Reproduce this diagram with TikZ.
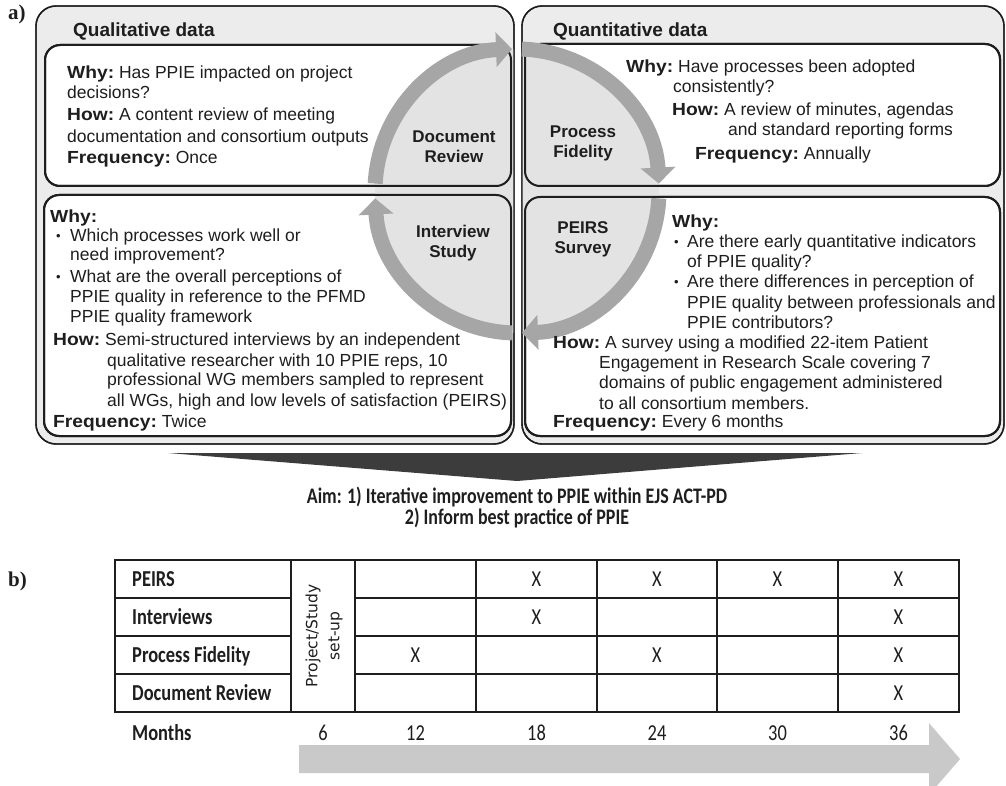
\documentclass[tikz,border=0pt]{standalone}
\usepackage{graphicx}
\usepackage{fontspec}
\setmainfont{Liberation Sans}
\newfontfamily\calfont{Carlito}
\newfontfamily\dvfont{DejaVu Sans}
\newfontfamily\serfont{Liberation Serif}
\usetikzlibrary{arrows.meta,calc}
\definecolor{panel}{HTML}{ECECEC}
\definecolor{disk}{HTML}{E3E3E3}
\definecolor{ring}{HTML}{A6A6A6}
\definecolor{ink}{HTML}{1E1E1E}
\definecolor{wedge}{HTML}{3C3C3C}
\definecolor{tarrow}{HTML}{C9C9C9}
\newcommand\bw[1]{\scalebox{1.1}[1]{\textbf{#1}}}
\newcommand\tall[1]{\scalebox{0.97}[1.2]{#1}}
\newcommand\smallbul{{\fontsize{13}{13}\selectfont\raisebox{1.2pt}{•}}}
\begin{document}
\begin{tikzpicture}[x=1pt,y=-1pt,
  txt/.style={font=\fontsize{17.5}{21}\selectfont, inner sep=0pt, text=ink, anchor=base west},
  hdr/.style={font=\bfseries\fontsize{19}{22}\selectfont, inner sep=0pt, text=ink, anchor=base west},
  clab/.style={font=\bfseries\fontsize{17}{20}\selectfont, inner sep=0pt, text=ink, align=center},
  outerbox/.style={draw=ink, line width=1.4pt, rounded corners=20pt},
  innerbox/.style={draw=ink, line width=2pt, rounded corners=15pt},
  ringarc/.style={draw=ring, line width=15pt, -{Triangle[width=34pt,length=16pt]}},
  tab/.style={font=\calfont\fontsize{19}{22}\selectfont, inner sep=0pt, text=ink},
  tabb/.style={font=\calfont\bfseries\fontsize{19}{22}\selectfont, inner sep=0pt, text=ink, anchor=base west},
  aimtxt/.style={font=\calfont\bfseries\fontsize{18.5}{21}\selectfont, inner sep=0pt, text=ink, anchor=base},
  gridline/.style={draw=ink, line width=1.8pt},
  lab/.style={font=\serfont\bfseries\fontsize{21}{24}\selectfont, inner sep=0pt, text=ink, anchor=base west},
]
\useasboundingbox (0,0) rectangle (1006,786);
\fill[white] (0,0) rectangle (1006,786);

% panels
\path[outerbox, fill=panel] (36,6) rectangle (514,444);
\path[outerbox, fill=panel] (522,6) rectangle (1004,444);
\path[innerbox, fill=white] (45,45) rectangle (511,186);
\path[innerbox, fill=white] (44,195) rectangle (511,436);
\path[innerbox, fill=white] (525,44) rectangle (1000,186);
\path[innerbox, fill=white] (525,197) rectangle (1000,436);

% disk
\coordinate (c) at (517,191);
\begin{scope}
\clip (36,6) rectangle (514,444) (522,6) rectangle (1004,444);
\fill[disk] (c) circle[radius=142];
\end{scope}

% borders again
\draw[innerbox] (45,45) rectangle (511,186);
\draw[innerbox] (44,195) rectangle (511,436);
\draw[innerbox] (525,44) rectangle (1000,186);
\draw[innerbox] (525,197) rectangle (1000,436);
\draw[outerbox] (36,6) rectangle (514,444);
\draw[outerbox] (522,6) rectangle (1004,444);

% ring arrows
\draw[ringarc] ($(c)+(183:142)$) arc[start angle=183, end angle=268, radius=142];
\draw[ringarc] ($(c)+(272:142)$) arc[start angle=272, end angle=357, radius=142];
\draw[ringarc] ($(c)+(3:142)$) arc[start angle=3, end angle=88, radius=142];
\draw[ringarc] ($(c)+(92:142)$) arc[start angle=92, end angle=177, radius=142];

% labels a) b)
\node[lab] (la) at (8,20) {a)};
\node[lab] (lb) at (8,586) {b)};

% headers
\node[hdr] (qualh) at (73,37) {Qualitative data};
\node[hdr] (quanh) at (553,37) {Quantitative data};

% circle labels
\node[clab] (docrev) at (454,147) {Document\\Review};
\node[clab] (procfid) at (583,143) {Process\\Fidelity};
\node[clab] (intst) at (453,243) {Interview\\Study};
\node[clab] (peirs) at (583,239) {PEIRS\\Survey};

% top-left text
\node[txt] (tl1) at (67,79) {\bw{Why:} Has PPIE impacted on project};
\node[txt] (tl2) at (67,99) {decisions?};
\node[txt] (tl3) at (67,121) {\bw{How:} A content review of meeting};
\node[txt] (tl4) at (67,143) {documentation and consortium outputs};
\node[txt] (tl5) at (67,164) {\bw{Frequency:} Once};

% top-right text
\node[txt] (tr1) at (626,73) {\bw{Why:} Have processes been adopted};
\node[txt] (tr2) at (673,93) {consistently?};
\node[txt] (tr3) at (672,116) {\bw{How:} A review of minutes, agendas};
\node[txt] (tr4) at (728,136) {and standard reporting forms};
\node[txt] (tr5) at (695,160) {\bw{Frequency:} Annually};

% bottom-left text
\node[txt] (bl0) at (50,222.5) {\bw{Why:}};
\node[txt] (blb1) at (56,241.5) {\smallbul};
\node[txt] (bl1) at (70,241.5) {Which processes work well or};
\node[txt] (bl2) at (70,260.5) {need improvement?};
\node[txt] (blb2) at (56,282.5) {\smallbul};
\node[txt] (bl3) at (70,282.5) {What are the overall perceptions of};
\node[txt] (bl4) at (70,302.5) {PPIE quality in reference to the PFMD};
\node[txt] (bl5) at (70,322.5) {PPIE quality framework};
\node[txt] (bl6) at (53,345.5) {\bw{How:} Semi-structured interviews by an independent};
\node[txt] (bl7) at (107,366.5) {qualitative researcher with 10 PPIE reps, 10};
\node[txt] (bl8) at (107,385.5) {professional WG members sampled to represent};
\node[txt] (bl9) at (107,406.5) {all WGs, high and low levels of satisfaction (PEIRS)};
\node[txt] (bl10) at (53,427.5) {\bw{Frequency:} Twice};

% bottom-right text
\node[txt] (br0) at (672,227.5) {\bw{Why:}};
\node[txt] (brb1) at (674,247.5) {\smallbul};
\node[txt] (br1) at (687,247.5) {Are there early quantitative indicators};
\node[txt] (br2) at (687,267.5) {of PPIE quality?};
\node[txt] (brb2) at (674,287.5) {\smallbul};
\node[txt] (br3) at (687,287.5) {Are there differences in perception of};
\node[txt] (br4) at (687,308.5) {PPIE quality between professionals and};
\node[txt] (br5) at (687,328.5) {PPIE contributors?};
\node[txt] (br6) at (553,348.5) {\bw{How:} A survey using a modified 22-item Patient};
\node[txt] (br7) at (599,368.5) {Engagement in Research Scale covering 7};
\node[txt] (br8) at (599,388.5) {domains of public engagement administered};
\node[txt] (br9) at (599,409.5) {to all consortium members.};
\node[txt] (br10) at (553,427.5) {\bw{Frequency:} Every 6 months};

% wedge
\fill[wedge] (168,453) -- (862,453) -- (517,481) -- cycle;

% aim
\node[aimtxt] (aim1) at (517,503) {\tall{Aim: 1) Iterative improvement to PPIE within EJS ACT-PD}};
\node[aimtxt] (aim2) at (517,524) {\tall{2) Inform best practice of PPIE}};

% table
\draw[gridline] (115,560) rectangle (959,712);
\foreach \yy in {598,636,674} {
  \draw[gridline] (115,\yy) -- (291,\yy);
  \draw[gridline] (355,\yy) -- (959,\yy);
}
\foreach \xx in {291,355,476,597,717,838} \draw[gridline] (\xx,560) -- (\xx,712);

\node[tabb] (rpeirs) at (132,586) {\tall{PEIRS}};
\node[tabb] (rint) at (132,624) {\tall{Interviews}};
\node[tabb] (rpf) at (132,662) {\tall{Process Fidelity}};
\node[tabb] (rdr) at (132,700) {\tall{Document Review}};
\node[font=\dvfont\fontsize{15.5}{22}\selectfont, rotate=90, align=center, inner sep=0pt, text=ink] (setup) at (324,636) {Project/Study\\set-up};

\node[tab] (p18) at (536.5,579) {\tall{X}};
\node[tab] (p24) at (657,579) {\tall{X}};
\node[tab] (p30) at (777.5,579) {\tall{X}};
\node[tab] (p36) at (898.5,579) {\tall{X}};
\node[tab] (i18) at (536.5,617) {\tall{X}};
\node[tab] (i36) at (898.5,617) {\tall{X}};
\node[tab] (f12) at (415.5,655) {\tall{X}};
\node[tab] (f24) at (657,655) {\tall{X}};
\node[tab] (f36) at (898.5,655) {\tall{X}};
\node[tab] (d36) at (898.5,693) {\tall{X}};

\node[tabb] (months) at (132,740) {\tall{Months}};
\node[tab] (m6) at (323,733) {\tall{6}};
\node[tab] (m12) at (415.5,733) {\tall{12}};
\node[tab] (m18) at (536.5,733) {\tall{18}};
\node[tab] (m24) at (657,733) {\tall{24}};
\node[tab] (m30) at (777.5,733) {\tall{30}};
\node[tab] (m36) at (898.5,733) {\tall{36}};

% timeline arrow
\begin{scope}
\clip (0,0) rectangle (1006,786);
\fill[tarrow] (299,745) -- (929,745) -- (929,723) -- (960,759) -- (929,795) -- (929,773) -- (299,773) -- cycle;
\end{scope}
\end{tikzpicture}
\end{document}
